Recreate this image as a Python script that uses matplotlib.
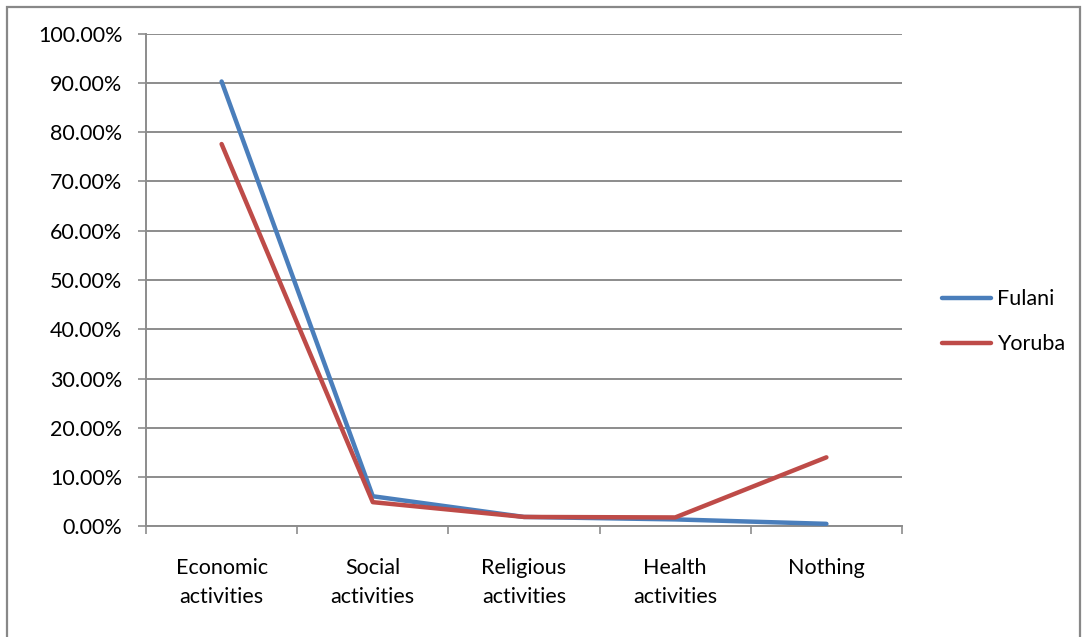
import matplotlib
matplotlib.use("Agg")
import matplotlib.pyplot as plt
from matplotlib.patches import Rectangle
from matplotlib.ticker import FixedLocator, PercentFormatter

categories = ["Economic\nactivities", "Social\nactivities", "Religious\nactivities",
              "Health\nactivities", "Nothing"]
fulani = [90.3, 6.1, 1.9, 1.4, 0.5]
yoruba = [77.6, 4.9, 1.9, 1.8, 14.0]
y_ticks = [0, 10, 20, 30, 40, 50, 60, 70, 80, 90, 100]

plt.rcParams["font.family"] = ["Lato", "DejaVu Sans"]

W, H = 1086, 637
fig = plt.figure(figsize=(W / 100, H / 100), dpi=100)

# outer chart frame
fig.patches.append(Rectangle((7 / W, -0.05), (1080 - 7) / W, 1.05 - 7 / H,
                             transform=fig.transFigure, fill=False,
                             edgecolor="#888888", linewidth=1.6))

left, right, top, bottom = 146, 902, 33.7, 526.3
ax = fig.add_axes([left / W, 1 - bottom / H, (right - left) / W, (bottom - top) / H])

x = list(range(len(categories)))
ax.plot(x, fulani, color="#4A7EBB", linewidth=3.2, solid_capstyle="round",
        solid_joinstyle="round", label="Fulani", zorder=3)
ax.plot(x, yoruba, color="#BE4B48", linewidth=3.2, solid_capstyle="round",
        solid_joinstyle="round", label="Yoruba", zorder=3)

ax.set_xlim(-0.5, len(categories) - 0.5)
ax.set_ylim(0, 100)
ax.set_yticks(y_ticks)
ax.yaxis.set_major_formatter(PercentFormatter(decimals=2))
ax.set_xticks(x)
ax.set_xticklabels(categories)
ax.xaxis.set_minor_locator(FixedLocator([i - 0.5 for i in range(len(categories) + 1)]))

ax.grid(axis="y", color="#8c8c8c", linewidth=1.4)
ax.set_axisbelow(True)
for s in ["top", "right"]:
    ax.spines[s].set_visible(False)
for s in ["left", "bottom"]:
    ax.spines[s].set_color("#8c8c8c")
    ax.spines[s].set_linewidth(1.4)

ax.tick_params(axis="y", length=6, width=1.2, color="#8c8c8c", labelsize=15.5, pad=11)
ax.tick_params(axis="x", which="major", length=0, labelsize=15.5, pad=23)
ax.tick_params(axis="x", which="minor", length=6, width=1.2, color="#8c8c8c")
for lbl in ax.get_xticklabels():
    lbl.set_linespacing(1.55)

ax.legend(loc="center left", bbox_to_anchor=(1.027, 0.415), frameon=False,
          fontsize=15.5, handlelength=2.3, handletextpad=0.25, labelspacing=1.15,
          borderpad=0.4)

fig.savefig("out.png", dpi=100)
